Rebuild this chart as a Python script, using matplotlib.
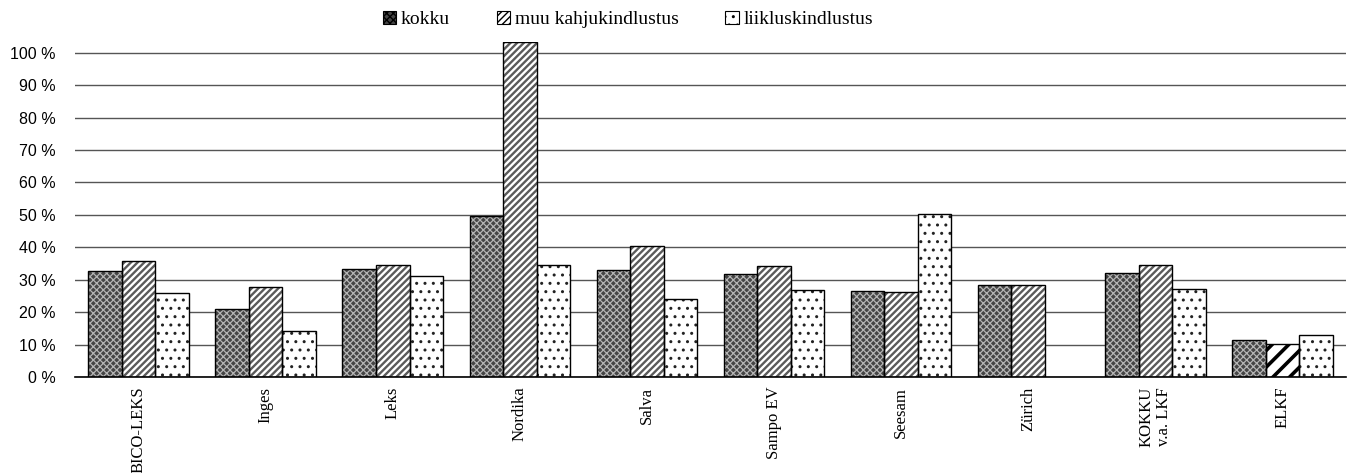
import numpy as np
import matplotlib
matplotlib.use("Agg")
import matplotlib.pyplot as plt
from matplotlib.patches import Patch

# Data (fractions)
categories = ["BICO-LEKS", "Inges", "Leks", "Nordika", "Salva", "Sampo EV",
              "Seesam", "Zürich", "KOKKU\nv.a. LKF", "ELKF"]
kokku = [0.326, 0.211, 0.332, 0.495, 0.330, 0.317, 0.265, 0.283, 0.320, 0.115]
muu = [0.359, 0.277, 0.345, 1.032, 0.403, 0.342, 0.262, 0.283, 0.345, 0.103]
liiklus = [0.260, 0.142, 0.312, 0.345, 0.240, 0.268, 0.502, np.nan, 0.270, 0.131]
series_names = ["kokku", "muu kahjukindlustus", "liikluskindlustus"]
yticks = np.arange(0, 1.01, 0.1)

serif = ["Liberation Serif", "DejaVu Serif"]
sans = ["Liberation Sans", "DejaVu Sans"]

fig = plt.figure(figsize=(13.5, 4.73), dpi=100)
ax = fig.add_axes([75 / 1350, 1 - 377 / 473, 1271 / 1350, 335 / 473])

x = np.arange(len(categories))
w = 0.264

# hatch styles: (face, hatch, hatch colour, hatch linewidth)
styles = [
    ("#454545", "xxxxx", "#b4b4b4", 0.9),
    ("white", "/////", "#5a5a5a", 1.7),
    ("white", "..", "#222222", 1.0),
]


def hatched_bars(xpos, vals, face, hatch, hcol, hlw):
    with plt.rc_context({"hatch.linewidth": hlw}):
        ax.bar(xpos, vals, w, color=face, edgecolor=hcol, hatch=hatch,
               linewidth=0, zorder=2)
    ax.bar(xpos, vals, w, facecolor="none", edgecolor="black",
           linewidth=1.0, zorder=3)


for i, vals in enumerate([kokku, muu, liiklus]):
    face, hatch, hcol, hlw = styles[i]
    vals = np.array(vals, dtype=float)
    if i == 1:
        # last group (ELKF) uses a bolder black diagonal pattern
        main = vals.copy()
        main[-1] = np.nan
        hatched_bars(x + (i - 1) * w, main, face, hatch, hcol, hlw)
        last = np.full_like(vals, np.nan)
        last[-1] = vals[-1]
        hatched_bars(x + (i - 1) * w, last, "white", "//", "black", 2.6)
    else:
        hatched_bars(x + (i - 1) * w, vals, face, hatch, hcol, hlw)

ax.set_xlim(-0.5, len(categories) - 0.5)
ax.set_ylim(0, 1.033)
ax.set_yticks(yticks)
ax.set_yticklabels([f"{int(round(t * 100))} %" for t in yticks],
                   family=sans, fontsize=11.5)
ax.set_xticks(x)
ax.set_xticklabels(categories, rotation=90, family=serif, fontsize=12,
                   va="top", ha="center", linespacing=1.15)
ax.tick_params(axis="y", length=0, pad=14)
ax.tick_params(axis="x", length=0, pad=7)
ax.grid(axis="y", color="#555555", linewidth=1.0, zorder=0)
ax.set_axisbelow(True)
for s in ["top", "right", "left"]:
    ax.spines[s].set_visible(False)
ax.spines["bottom"].set_color("black")
ax.spines["bottom"].set_linewidth(1.2)
ax.spines["bottom"].set_zorder(4)

handles = []
for i, name in enumerate(series_names):
    face, hatch, hcol, hlw = styles[i]
    handles.append(Patch(facecolor=face, edgecolor="black", hatch=hatch,
                         linewidth=0.8, label=name))
fig.legend(handles=handles, loc="upper center", bbox_to_anchor=(628 / 1350, 1.0),
           ncol=3, frameon=False, prop={"family": serif, "size": 14},
           handlelength=0.68, handleheight=0.68, handletextpad=0.25,
           columnspacing=2.4, borderaxespad=0.15)

fig.savefig("out.png", dpi=100)
